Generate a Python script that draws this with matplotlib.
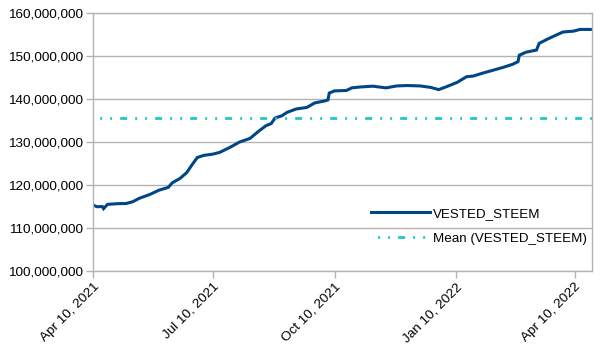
import pandas as pd
import matplotlib
matplotlib.use('Agg')
import matplotlib.pyplot as plt
import matplotlib.ticker as mticker

plt.rcParams['font.family'] = ['Liberation Sans', 'DejaVu Sans']
plt.rcParams['lines.scale_dashes'] = False

# values (approximate)
dates = ['2021-04-10', '2021-04-13', '2021-04-17', '2021-04-18', '2021-04-21',
         '2021-04-28', '2021-05-05', '2021-05-10', '2021-05-15', '2021-05-23',
         '2021-05-30', '2021-06-06', '2021-06-09', '2021-06-15', '2021-06-20',
         '2021-06-24', '2021-06-28', '2021-07-03', '2021-07-10', '2021-07-15',
         '2021-07-23', '2021-07-30', '2021-08-07', '2021-08-13', '2021-08-19',
         '2021-08-23', '2021-08-26', '2021-08-31', '2021-09-04', '2021-09-11',
         '2021-09-19', '2021-09-25', '2021-10-03', '2021-10-05', '2021-10-06',
         '2021-10-10', '2021-10-19', '2021-10-23', '2021-10-29', '2021-11-08',
         '2021-11-18', '2021-11-26', '2021-12-04', '2021-12-14', '2021-12-22',
         '2021-12-28', '2022-01-03', '2022-01-11', '2022-01-18', '2022-01-23',
         '2022-01-31', '2022-02-07', '2022-02-15', '2022-02-22', '2022-02-26',
         '2022-02-27', '2022-03-04', '2022-03-12', '2022-03-14', '2022-03-20',
         '2022-03-27', '2022-04-01', '2022-04-09', '2022-04-14', '2022-04-23']
vested = [115.35, 114.95, 115.0, 114.5, 115.5,
          115.65, 115.7, 116.1, 116.9, 117.8,
          118.8, 119.45, 120.5, 121.55, 122.9,
          124.7, 126.4, 126.9, 127.2, 127.6,
          128.8, 130.0, 130.85, 132.4, 133.8,
          134.3, 135.6, 136.1, 136.9, 137.7,
          138.05, 139.1, 139.6, 139.8, 141.4,
          141.9, 142.0, 142.6, 142.8, 143.0,
          142.6, 143.05, 143.15, 143.05, 142.7,
          142.2, 142.9, 143.9, 145.2, 145.35,
          146.1, 146.7, 147.4, 148.1, 148.7,
          150.2, 150.9, 151.4, 152.95, 153.9,
          154.9, 155.6, 155.8, 156.2, 156.2]
vested = [v * 1e6 for v in vested]
mean_value = 135.5e6

dates = pd.to_datetime(dates)

fig = plt.figure(figsize=(6.04, 3.54), dpi=100)
ax = fig.add_axes([0.154, 0.2345, 0.826, 0.7285])

grey = '#b3b3b3'
ax.plot(dates, vested, color='#004586', linewidth=2.2, label='VESTED_STEEM',
        solid_joinstyle='miter')
ax.plot([dates[0], dates[-1]], [mean_value, mean_value], color='#1ec8c8',
        linewidth=2.0, linestyle=(6, (5, 5.8, 1.4, 5.8, 1.4, 5.8)),
        label='Mean (VESTED_STEEM)')

ax.set_xlim(dates[0], dates[-1])
ax.set_ylim(100e6, 160e6)
ax.yaxis.set_major_locator(mticker.MultipleLocator(10e6))
ax.yaxis.set_major_formatter(mticker.StrMethodFormatter('{x:,.0f}'))

xt = pd.to_datetime(['2021-04-10', '2021-07-10', '2021-10-10', '2022-01-10', '2022-04-10'])
ax.set_xticks(xt)
ax.set_xticklabels([d.strftime('%b %d, %Y').replace(' 0', ' ') for d in xt])
plt.setp(ax.get_xticklabels(), rotation=45, ha='right', rotation_mode='anchor')

ax.grid(axis='y', color=grey, linewidth=1.0)
ax.set_axisbelow(True)
for s in ax.spines.values():
    s.set_color(grey)
    s.set_linewidth(1.0)
ax.tick_params(axis='both', color=grey, length=5, width=1.0, labelsize=9.7,
               labelcolor='black', pad=2)

ax.legend(loc='upper left', bbox_to_anchor=(0.604, 0.432), bbox_transform=fig.transFigure,
          frameon=False, handlelength=4.4, handletextpad=0.2, fontsize=9.6,
          labelspacing=0.95, borderpad=0)

fig.savefig('out.png', dpi=100)
